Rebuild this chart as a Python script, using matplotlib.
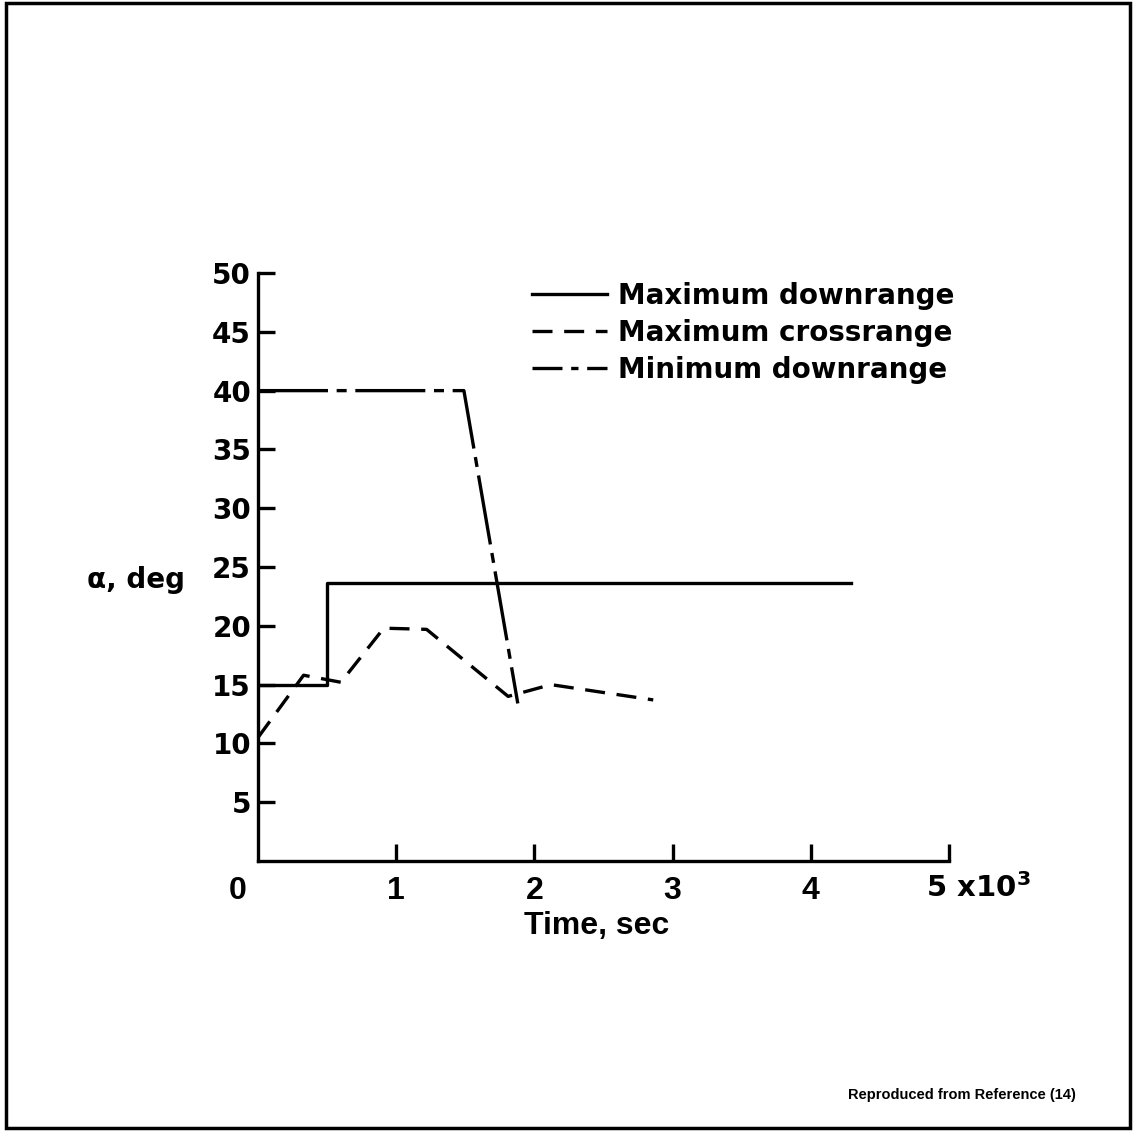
import matplotlib
matplotlib.use("Agg")
import matplotlib.pyplot as plt
from matplotlib.lines import Line2D
from matplotlib.patches import Rectangle

plt.rcParams["font.family"] = ["DejaVu Sans"]
plt.rcParams["font.weight"] = "bold"
plt.rcParams["axes.labelweight"] = "bold"
NARROW = ["Liberation Sans Narrow", "Liberation Sans"]

# Time in units of 10^3 sec, alpha in deg
max_down_t = [0.0, 0.50, 0.50, 4.29]
max_down_a = [15.0, 15.0, 23.6, 23.6]

max_cross_t = [0.0, 0.33, 0.60, 0.91, 1.22, 1.81, 2.12, 2.46, 2.86]
max_cross_a = [10.5, 15.8, 15.2, 19.8, 19.7, 14.0, 15.0, 14.4, 13.7]

min_down_t = [0.0, 1.49, 1.88]
min_down_a = [40.0, 40.0, 13.4]

labels = ["Maximum downrange", "Maximum crossrange", "Minimum downrange"]
x_ticks = [1, 2, 3, 4]
y_ticks = [5, 10, 15, 20, 25, 30, 35, 40, 45, 50]

fig = plt.figure(figsize=(11.35, 11.31), dpi=100)
ax = fig.add_axes([0.2273, 0.2387, 0.6088, 0.5199])

lw = 2.4
l1, = ax.plot(max_down_t, max_down_a, color="black", lw=lw)
l2, = ax.plot(max_cross_t, max_cross_a, color="black", lw=lw, dashes=(6, 3.5))
ax.plot(min_down_t, min_down_a, color="black", lw=lw, dashes=(21, 2.6, 3, 2.6))
# shorter pattern for the key so the dot shows in the handle
l3 = Line2D([], [], color="black", lw=lw, dashes=(9, 2.6, 2.2, 2.6))

ax.set_xlim(0, 5)
ax.set_ylim(0, 50)
ax.spines["top"].set_visible(False)
ax.spines["right"].set_visible(False)
ax.spines["left"].set_linewidth(2.4)
ax.spines["bottom"].set_linewidth(2.4)

ax.set_xticks(x_ticks + [5])
ax.set_xticklabels([str(t) for t in x_ticks] + [""])
ax.set_yticks(y_ticks)
ax.set_yticklabels([str(t) for t in y_ticks])
ax.tick_params(direction="in", length=12, width=2.4)
ax.tick_params(axis="y", labelsize=20, pad=5)
ax.tick_params(axis="x", labelsize=23, pad=11)
for lab in ax.get_xticklabels():
    lab.set_family(NARROW)

ax.text(-0.03, -0.026, "0", transform=ax.transAxes, fontsize=23,
        family=NARROW, ha="center", va="top")
ax.text(5.21, -0.02, r"5 x10$^{\mathregular{3}}$",
        transform=ax.get_xaxis_transform(), fontsize=21, ha="center", va="top")

ax.set_xlabel("Time, sec", fontsize=23, family=NARROW, fontweight="bold")
ax.xaxis.set_label_coords(0.49, -0.085)
ax.text(-0.1056, 0.478, "α, deg", transform=ax.transAxes, fontsize=20,
        ha="right", va="center")

leg = ax.legend([l1, l2, l3], labels, loc="upper left",
                bbox_to_anchor=(0.397, 0.985), frameon=False,
                fontsize=20, handlelength=2.7, handletextpad=0.4,
                labelspacing=0.33, borderpad=0, borderaxespad=0)

fig.text(0.948, 0.032, "Reproduced from Reference (14)", fontsize=10.5,
         family=["Liberation Sans"], ha="right", va="center")

fig.patches.append(Rectangle((6 / 1135, 3 / 1131), 1124 / 1135, 1125 / 1131,
                             transform=fig.transFigure, fill=False,
                             edgecolor="black", lw=2.5))

fig.savefig("out.png", dpi=100)
